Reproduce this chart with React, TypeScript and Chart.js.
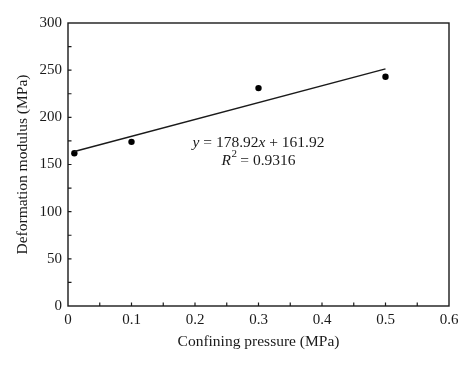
import React, { useEffect, useRef } from "react";
import { Chart, registerables } from "chart.js";

Chart.register(...registerables);

const pressure = [0.01, 0.1, 0.3, 0.5];
const modulus = [162, 174, 231, 243];
const fitX = [0.01, 0.5];
const slope = 178.92;
const intercept = 161.92;
const fitY = fitX.map((x) => slope * x + intercept);
const eqLine1 = ["y", " = 178.92", "x", " + 161.92"];
const eqLine2 = "R";
const r2Value = " = 0.9316";

const FONT = "'Liberation Serif', 'Times New Roman', serif";
const INK = "#1a1a1a";

const framePlugin = {
  id: "frame",
  afterDraw(chart: any) {
    const { ctx, chartArea: a, scales } = chart;
    const xs = scales.x;
    const ys = scales.y;
    ctx.save();
    ctx.strokeStyle = INK;
    ctx.lineWidth = 1.4;
    ctx.strokeRect(a.left, a.top, a.right - a.left, a.bottom - a.top);
    ctx.lineWidth = 1.2;
    ctx.beginPath();
    xs.ticks.forEach((t: any) => {
      const px = xs.getPixelForValue(t.value);
      if (px <= a.left + 1 || px >= a.right - 1) return;
      ctx.moveTo(px, a.bottom);
      ctx.lineTo(px, a.bottom - 3.5);
    });
    ys.ticks.forEach((t: any) => {
      const py = ys.getPixelForValue(t.value);
      if (py <= a.top + 1 || py >= a.bottom - 1) return;
      ctx.moveTo(a.left, py);
      ctx.lineTo(a.left + 3.5, py);
    });
    ctx.stroke();

    // equation annotation
    const cx = xs.getPixelForValue(0.3);
    const y1 = ys.getPixelForValue(173);
    const y2 = ys.getPixelForValue(154);
    ctx.fillStyle = INK;
    ctx.textBaseline = "middle";
    const parts = eqLine1.map((s, i) => ({
      s,
      f: (i % 2 === 0 ? "italic " : "") + "15.5px " + FONT,
    }));
    let total = 0;
    parts.forEach((p) => {
      ctx.font = p.f;
      total += ctx.measureText(p.s).width;
    });
    let x = cx - total / 2;
    parts.forEach((p) => {
      ctx.font = p.f;
      ctx.fillText(p.s, x, y1);
      x += ctx.measureText(p.s).width;
    });
    ctx.font = "italic 15.5px " + FONT;
    const wR = ctx.measureText(eqLine2).width;
    ctx.font = "11px " + FONT;
    const w2 = ctx.measureText("2").width;
    ctx.font = "15.5px " + FONT;
    const wV = ctx.measureText(r2Value).width;
    let x2 = cx - (wR + w2 + wV) / 2;
    ctx.font = "italic 15.5px " + FONT;
    ctx.fillText(eqLine2, x2, y2);
    x2 += wR;
    ctx.font = "11px " + FONT;
    ctx.fillText("2", x2 + 0.5, y2 - 6.5);
    x2 += w2;
    ctx.font = "15.5px " + FONT;
    ctx.fillText(r2Value, x2, y2);
    ctx.restore();
  },
};

export default function App() {
  const ref = useRef<HTMLCanvasElement>(null);
  useEffect(() => {
    document.body.style.margin = "0";
    const chart = new Chart(ref.current!, {
      type: "scatter",
      data: {
        datasets: [
          {
            type: "line",
            data: fitX.map((x, i) => ({ x, y: fitY[i] })),
            borderColor: INK,
            borderWidth: 1.5,
            pointRadius: 0,
            fill: false,
          } as any,
          {
            data: pressure.map((x, i) => ({ x, y: modulus[i] })),
            backgroundColor: "#000",
            borderColor: "#000",
            pointRadius: 3.2,
            borderWidth: 0,
          },
        ],
      },
      options: {
        animation: false,
        responsive: false,
        maintainAspectRatio: false,
        layout: { padding: { left: 0, top: 23, right: 25, bottom: 0 } },
        plugins: { legend: { display: false }, tooltip: { enabled: false } },
        scales: {
          x: {
            type: "linear",
            min: 0,
            max: 0.6,
            grid: { display: false, drawTicks: false },
            border: { display: false },
            ticks: {
              stepSize: 0.05,
              autoSkip: false,
              maxRotation: 0,
              padding: 5,
              color: INK,
              font: { family: FONT, size: 15 },
              callback: (v: any) => {
                const n = Math.round(Number(v) * 100);
                if (n % 10 !== 0) return "";
                return n === 0 ? "0" : String(n / 100);
              },
            },
            title: {
              display: true,
              text: "Confining pressure (MPa)",
              color: INK,
              font: { family: FONT, size: 15.5 },
              padding: { top: 0, bottom: 16 },
            },
            afterFit: (s: any) => {
              s.height = 61;
            },
          },
          y: {
            type: "linear",
            min: 0,
            max: 300,
            grid: { display: false, drawTicks: false },
            border: { display: false },
            ticks: {
              stepSize: 25,
              autoSkip: false,
              padding: 6,
              color: INK,
              font: { family: FONT, size: 15 },
              callback: (v: any) => (Number(v) % 50 === 0 ? String(v) : ""),
            },
            title: {
              display: true,
              text: "Deformation modulus (MPa)",
              color: INK,
              font: { family: FONT, size: 15.5 },
              padding: { top: 14, bottom: 0 },
            },
            afterFit: (s: any) => {
              s.width = 68;
            },
          },
        },
      },
      plugins: [framePlugin],
    });
    return () => chart.destroy();
  }, []);
  return (
    <div style={{ width: 474, height: 367, background: "#fff" }}>
      <canvas ref={ref} width={474} height={367} style={{ display: "block" }} />
    </div>
  );
}
